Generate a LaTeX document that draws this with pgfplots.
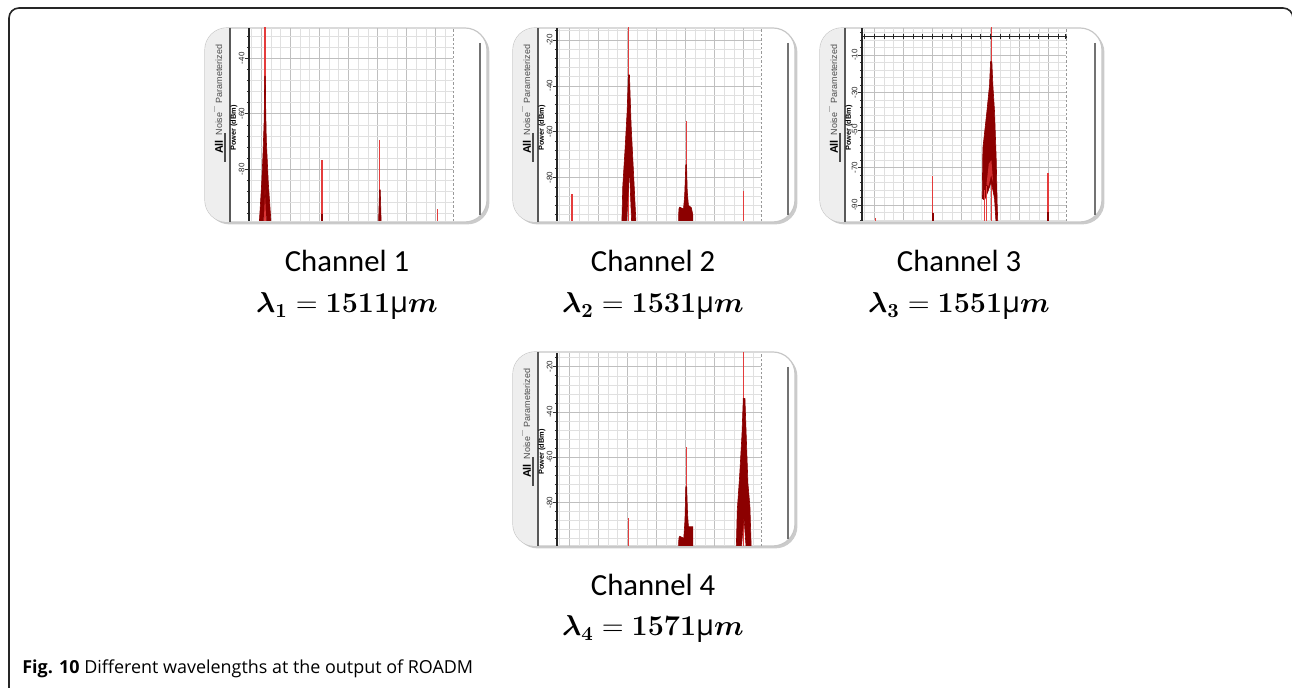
\documentclass[border=0pt]{standalone}
\usepackage[no-math]{fontspec}
\usepackage{amsmath,bm}
\usepackage{pgfplots}
\pgfplotsset{compat=1.18}
\usetikzlibrary{shadows}
\setmainfont{Open Sans}
\newfontfamily\arial{Liberation Sans}
\newfontfamily\calibri{Carlito}
\definecolor{dkred}{RGB}{140,0,0}
\definecolor{spkcol}{RGB}{228,60,60}
\definecolor{tabgray}{RGB}{238,238,238}
\pgfplotsset{panel/.style={
  scale only axis, width=102bp, height=96.5bp,
  xmin=0.575, xmax=7.6,
  axis line style={draw=none},
  xtick={0,...,8}, xticklabels={}, minor x tick num=2,
  minor y tick num=4,
  grid=both,
  major grid style={draw=black!25, line width=0.35bp},
  minor grid style={draw=black!12, line width=0.3bp},
  xtick style={draw=none},
  ytick style={draw=black!80, line width=0.35bp},
  ytick pos=left, tick align=outside,
  major tick length=1.8bp, minor tick length=1.1bp,
  yticklabel style={rotate=90, anchor=south, inner sep=0.3bp, text=black!85, font=\arial\fontsize{4}{4}\selectfont},
  /pgf/number format/assume math mode=true,
  anchor=south west,
},
envfill/.style={fill=dkred, draw=dkred, line width=0.3bp},
spkline/.style={draw=spkcol, line width=0.55bp},
}
\newcommand\spike[2]{\addplot[spkline] coordinates {(#1,-120) (#1,#2)};}
\newcommand\dspike[2]{\addplot[draw=dkred, line width=0.9bp] coordinates {(#1,-120) (#1,#2)};}
\newcommand\panelframe[2]{%
  \path[draw=black!22, line width=0.6bp, fill=white, rounded corners=11bp,
    drop shadow={shadow xshift=1.2bp, shadow yshift=-1.2bp, opacity=0.45, fill=black!45}]
    (#1,#2) rectangle (#1+282,#2-194);
  \begin{scope}
    \clip[rounded corners=11bp] (#1,#2) rectangle (#1+282,#2-194);
    \fill[tabgray] (#1,#2) rectangle (#1+25,#2-194);
  \end{scope}
  \draw[black!65, line width=1bp] (#1+25,#2) -- (#1+25,#2-194);
  \draw[black!55, line width=1.3bp] (#1+275,#2-15) -- (#1+275,#2-187);
  \node[rotate=90, text=black!70, font=\arial\fontsize{4.5}{5}\selectfont] at (#1+14,#2-46) {Parameterized};
  \node[rotate=90, text=black!70, font=\arial\fontsize{4.5}{5}\selectfont] at (#1+14,#2-96) {Noise};
  \node[rotate=90, font=\arial\bfseries\fontsize{5.5}{6}\selectfont] at (#1+14,#2-119) {All};
  \draw[black!70, line width=0.6bp] (#1+20,#2-105) -- (#1+20,#2-134);
  \draw[black!30, line width=0.4bp] (#1+9,#2-78) -- (#1+9,#2-84);
  \node[rotate=90, inner sep=0, font=\arial\bfseries\fontsize{3.7}{4}\selectfont] at (#1+29,#2-100) {Power (dBm)};
}
\newcommand\axislines[1]{%
  \draw[black!85, line width=0.55bp] (#1.south west) -- (#1.north west);
  \draw[black!40, line width=0.4bp, dash pattern=on 1.2bp off 1bp] (#1.south east) -- (#1.north east);
}
\begin{document}
\begin{tikzpicture}[x=0.5bp, y=0.5bp]
\useasboundingbox (0,0) rectangle (1292,687);
% outer frame
\draw[black!85, line width=0.8bp, rounded corners=5bp] (9,-12) -- (9,679) -- (1293,679) -- (1293,-12);

% ---------- panel 1 ----------
\panelframe{205}{659}
\begin{axis}[panel, name=a1, at={(124.5bp,233bp)}, ymin=-98.6, ymax=-29.1, ytick={-120,-100,...,0}]
\spike{1.126}{10}
\spike{3.09}{-76.7}
\dspike{3.09}{-96}
\spike{5.08}{-69.5}
\spike{7.06}{-94.2}
\addplot[envfill] coordinates {(0.92,-101)(1.01,-85.2)(1.057,-74.5)(1.092,-63.8)(1.103,-57.9)(1.115,-46.5)(1.138,-46.5)(1.149,-57.9)(1.172,-69.8)(1.241,-85.2)(1.345,-101)(1.184,-101)(1.126,-85)(1.069,-101)} -- cycle;
\addplot[envfill] coordinates {(5.03,-101)(5.07,-87.4)(5.095,-87.4)(5.13,-101)} -- cycle;
\end{axis}
\axislines{a1}

% ---------- panel 2 ----------
\panelframe{513}{659}
\begin{axis}[panel, name=a2, at={(278.5bp,233bp)}, ymin=-98.8, ymax=-14.8, ytick={-120,-100,...,0}]
\spike{1.092}{-87.1}
\spike{3.046}{10}
\spike{5.023}{-55.5}
\spike{7.0}{-85.9}
\addplot[envfill] coordinates {(2.805,-101)(2.839,-83.8)(2.92,-67.1)(2.989,-51.2)(3.034,-35.2)(3.069,-35.2)(3.126,-57)(3.195,-74.3)(3.241,-85.9)(3.299,-101)(3.149,-101)(3.069,-75.8)(2.966,-101)} -- cycle;
\addplot[envfill] coordinates {(4.76,-101)(4.77,-93.6)(4.80,-92.8)(4.93,-93.6)(4.97,-88)(5.01,-74.3)(5.035,-74.3)(5.06,-86)(5.10,-92)(5.20,-93)(5.25,-96)(5.25,-101)} -- cycle;
\end{axis}
\axislines{a2}

% ---------- panel 3 ----------
\panelframe{820}{659}
\begin{axis}[panel, name=a3, at={(431bp,233bp)}, ymin=-98.5, ymax=4.4, ytick={-110,-90,...,10}]
\spike{1.034}{-97}
\spike{3.011}{-74.4}
\dspike{3.011}{-94.4}
\spike{6.977}{-73.1}
\dspike{6.977}{-93.6}
\spike{5.035}{20}
\addplot[envfill] coordinates {(4.713,-86.5)(4.736,-59.8)(4.874,-40.2)(4.966,-26)(5.0,-13.6)(5.046,-13.6)(5.08,-26)(5.138,-40.2)(5.195,-65.1)(5.23,-90)(5.253,-101)(5.195,-101)(5.138,-86.5)(5.023,-77.6)(4.908,-82.9)(4.793,-87.3)} -- cycle;
\addplot[fill=spkcol!75!dkred, draw=none] coordinates {(4.86,-79)(4.94,-68)(5.03,-66)(5.09,-78)(5.02,-74)(4.93,-80)} -- cycle;
\spike{4.80}{-82}
\spike{4.85}{-80}
\addplot[black!85, line width=0.55bp, mark=|, mark size=1.3bp] coordinates {(0.575,0)(0.667,0)(1,0)(1.333,0)(1.667,0)(2,0)(2.333,0)(2.667,0)(3,0)(3.333,0)(3.667,0)(4,0)(4.333,0)(4.667,0)(5,0)(5.333,0)(5.667,0)(6,0)(6.333,0)(6.667,0)(7,0)(7.333,0)(7.6,0)};
\end{axis}
\axislines{a3}

% ---------- panel 4 ----------
\panelframe{513}{335}
\begin{axis}[panel, name=a4, at={(278.5bp,70.5bp)}, ymin=-99.3, ymax=-13.9, ytick={-120,-100,...,0}]
\spike{3.034}{-86.8}
\spike{5.023}{-55.4}
\spike{7.011}{10}
\addplot[envfill] coordinates {(4.76,-101)(4.77,-95.9)(4.80,-95)(4.94,-95.9)(4.98,-88)(5.01,-73.1)(5.04,-73.1)(5.07,-85)(5.10,-90.8)(5.25,-90.8)(5.25,-101)} -- cycle;
\addplot[envfill] coordinates {(6.747,-101)(6.782,-83.4)(6.862,-68.6)(6.943,-50.2)(6.989,-34)(7.046,-34)(7.092,-51)(7.149,-71.6)(7.218,-81.9)(7.264,-101)(7.092,-101)(7.011,-86.3)(6.92,-101)} -- cycle;
\end{axis}
\axislines{a4}

% ---------- labels ----------
\node[anchor=base, font=\calibri\fontsize{15.4}{17}\selectfont] at (347,415) {Channel 1};
\node[anchor=base, font=\calibri\fontsize{15.4}{17}\selectfont] at (653,415) {Channel 2};
\node[anchor=base, font=\calibri\fontsize{15.4}{17}\selectfont] at (959,415) {Channel 3};
\node[anchor=base, font=\calibri\fontsize{15.4}{17}\selectfont] at (653,92) {Channel 4};
\node[anchor=base, font=\fontsize{14.6}{16}\selectfont] at (347,374) {$\bm{\lambda_1}=\mathbf{1511}$μ$\bm{m}$};
\node[anchor=base, font=\fontsize{14.6}{16}\selectfont] at (653,374) {$\bm{\lambda_2}=\mathbf{1531}$μ$\bm{m}$};
\node[anchor=base, font=\fontsize{14.6}{16}\selectfont] at (959,374) {$\bm{\lambda_3}=\mathbf{1551}$μ$\bm{m}$};
\node[anchor=base, font=\fontsize{14.6}{16}\selectfont] at (653,51) {$\bm{\lambda_4}=\mathbf{1571}$μ$\bm{m}$};
\node[anchor=base west, inner sep=0, font=\fontsize{9}{11}\selectfont] at (22,14) {\textbf{Fig. 10} Different wavelengths at the output of ROADM};
\end{tikzpicture}
\end{document}
